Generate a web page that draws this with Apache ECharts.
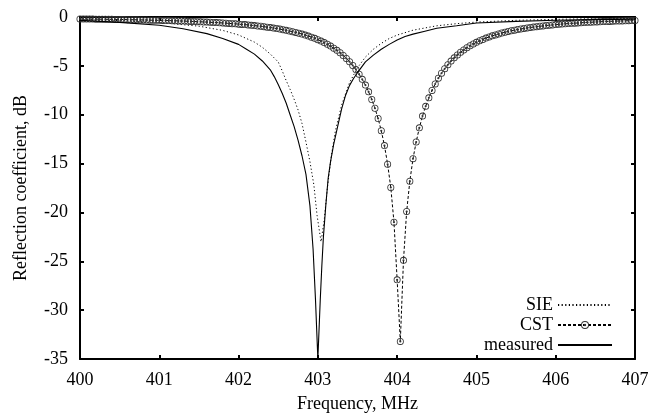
<!DOCTYPE html>
<html>
<head>
<meta charset="utf-8">
<script src="https://cdn.jsdelivr.net/npm/echarts@6/dist/echarts.min.js"></script>
<style>
html,body{margin:0;padding:0;background:#fff;}
#chart{width:669px;height:418px;}
</style>
</head>
<body>
<div id="chart"></div>
<script>
// ---- data ----
var xTicks = [400, 401, 402, 403, 404, 405, 406, 407];
var yTicks = [0, -5, -10, -15, -20, -25, -30, -35];

var sieFreq = [400, 400.5, 401, 401.5, 401.8, 402, 402.2, 402.3, 402.4, 402.5, 402.55, 402.6, 402.65, 402.7, 402.75, 402.8, 402.85, 402.9, 402.95, 402.99, 403.04, 403.08, 403.12, 403.17, 403.22, 403.3, 403.4, 403.5, 403.6, 403.7, 403.8, 403.9, 404, 404.2, 404.5, 404.75, 405, 405.5, 406, 406.5, 407];
var sieVals = [-0.26, -0.37, -0.56, -0.94, -1.37, -1.84, -2.57, -3.1, -3.79, -4.6, -5.5, -6.5, -7.4, -8.4, -9.5, -10.9, -12.8, -14.8, -17.2, -20.3, -23.0, -20.8, -17.5, -14.2, -11.7, -9.0, -6.7, -5.2, -4.1, -3.3, -2.7, -2.2, -1.85, -1.35, -0.9, -0.68, -0.52, -0.34, -0.24, -0.17, -0.13];

var cstFreq = [
400, 400.04, 400.08, 400.12, 400.16, 400.2, 400.24, 400.28, 400.32, 400.36, 400.4, 400.44, 400.48, 400.52, 400.56, 400.6, 400.64, 400.68, 400.72, 400.76, 400.8, 400.84, 400.88, 400.92, 400.96,
401, 401.04, 401.08, 401.12, 401.16, 401.2, 401.24, 401.28, 401.32, 401.36, 401.4, 401.44, 401.48, 401.52, 401.56, 401.6, 401.64, 401.68, 401.72, 401.76, 401.8, 401.84, 401.88, 401.92, 401.96,
402, 402.04, 402.08, 402.12, 402.16, 402.2, 402.24, 402.28, 402.32, 402.36, 402.4, 402.44, 402.48, 402.52, 402.56, 402.6, 402.64, 402.68, 402.72, 402.76, 402.8, 402.84, 402.88, 402.92, 402.96,
403, 403.04, 403.08, 403.12, 403.16, 403.2, 403.24, 403.28, 403.32, 403.36, 403.4, 403.44, 403.48, 403.52, 403.56, 403.6, 403.64, 403.68, 403.72, 403.76, 403.8, 403.84, 403.88, 403.92, 403.96,
404, 404.04, 404.08, 404.12, 404.16, 404.2, 404.24, 404.28, 404.32, 404.36, 404.4, 404.44, 404.48, 404.52, 404.56, 404.6, 404.64, 404.68, 404.72, 404.76, 404.8, 404.84, 404.88, 404.92, 404.96,
405, 405.04, 405.08, 405.12, 405.16, 405.2, 405.24, 405.28, 405.32, 405.36, 405.4, 405.44, 405.48, 405.52, 405.56, 405.6, 405.64, 405.68, 405.72, 405.76, 405.8, 405.84, 405.88, 405.92, 405.96,
406, 406.04, 406.08, 406.12, 406.16, 406.2, 406.24, 406.28, 406.32, 406.36, 406.4, 406.44, 406.48, 406.52, 406.56, 406.6, 406.64, 406.68, 406.72, 406.76, 406.8, 406.84, 406.88, 406.92, 406.96,
407];
var cstVals = [
-0.20, -0.20, -0.21, -0.21, -0.21, -0.22, -0.22, -0.23, -0.23, -0.24, -0.24, -0.25, -0.25, -0.26, -0.26, -0.27, -0.28, -0.28, -0.29, -0.30, -0.30, -0.31, -0.32, -0.33, -0.33,
-0.34, -0.35, -0.36, -0.37, -0.38, -0.39, -0.40, -0.41, -0.42, -0.44, -0.45, -0.46, -0.48, -0.49, -0.51, -0.52, -0.54, -0.56, -0.57, -0.59, -0.61, -0.63, -0.66, -0.68, -0.70,
-0.73, -0.76, -0.78, -0.81, -0.85, -0.88, -0.92, -0.95, -0.99, -1.04, -1.08, -1.13, -1.18, -1.24, -1.30, -1.36, -1.43, -1.50, -1.58, -1.66, -1.75, -1.85, -1.95, -2.06, -2.18,
-2.32, -2.46, -2.62, -2.79, -2.98, -3.19, -3.41, -3.66, -3.94, -4.24, -4.58, -4.96, -5.38, -5.85, -6.38, -6.97, -7.66, -8.44, -9.34, -10.39, -11.64, -13.16, -15.07, -17.45, -21.0,
-26.9, -33.2, -24.9, -19.9, -16.8, -14.5, -12.79, -11.34, -10.14, -9.14, -8.27, -7.51, -6.85, -6.26, -5.75, -5.29, -4.88, -4.51, -4.18, -3.88, -3.61, -3.37, -3.14, -2.94, -2.76,
-2.59, -2.43, -2.29, -2.16, -2.04, -1.93, -1.83, -1.73, -1.64, -1.56, -1.48, -1.41, -1.35, -1.28, -1.23, -1.17, -1.12, -1.07, -1.03, -0.99, -0.95, -0.91, -0.87, -0.84, -0.81,
-0.78, -0.75, -0.72, -0.70, -0.67, -0.65, -0.63, -0.61, -0.59, -0.57, -0.55, -0.54, -0.52, -0.50, -0.49, -0.47, -0.46, -0.45, -0.43, -0.42, -0.41, -0.40, -0.39, -0.38, -0.37,
-0.36];

var measFreq = [400, 400.5, 401, 401.3, 401.6, 401.8, 402, 402.1, 402.2, 402.3, 402.4, 402.45, 402.5, 402.55, 402.6, 402.65, 402.7, 402.75, 402.8, 402.85, 402.9, 402.94, 402.97, 403, 403.03, 403.05, 403.07, 403.1, 403.13, 403.16, 403.2, 403.25, 403.3, 403.35, 403.4, 403.45, 403.5, 403.6, 403.7, 403.8, 403.9, 404, 404.1, 404.2, 404.35, 404.5, 404.75, 405, 405.5, 406, 406.5, 407];
var measVals = [-0.35, -0.55, -0.85, -1.2, -1.7, -2.2, -2.8, -3.3, -3.8, -4.5, -5.4, -6.1, -6.9, -7.8, -8.8, -10.0, -11.2, -12.6, -14.2, -16.1, -19.3, -23.8, -28.9, -35.0, -29.0, -25.5, -22.5, -19.3, -16.5, -14.8, -13.0, -11.2, -9.4, -8.0, -7.0, -6.3, -5.7, -4.6, -3.9, -3.3, -2.8, -2.35, -2.0, -1.75, -1.45, -1.15, -0.9, -0.62, -0.45, -0.33, -0.27, -0.22];

function pairs(xs, ys) { return xs.map(function (x, i) { return [x, ys[i]]; }); }

var FONT = 'Liberation Serif';
var ringSymbol = 'path://M10 0A10 10 0 1 1 -10 0A10 10 0 1 1 10 0ZM7.6 0A7.6 7.6 0 1 0 -7.6 0A7.6 7.6 0 1 0 7.6 0ZM3 0A3 3 0 1 1 -3 0A3 3 0 1 1 3 0Z';

var axisLine = { show: true, onZero: false, lineStyle: { color: '#000', width: 2 } };
var axisTick = { show: true, inside: true, length: 4, lineStyle: { color: '#000', width: 2 } };
var noSymbol = { color: 'rgba(0,0,0,0)', borderColor: 'rgba(0,0,0,0)', borderWidth: 0, opacity: 0 };

var chart = echarts.init(document.getElementById('chart'), null, { renderer: 'canvas' });
chart.setOption({
  backgroundColor: '#fff',
  animation: false,
  grid: { left: 80, right: 34, top: 17, bottom: 57, containLabel: false },
  legend: {
    orient: 'vertical',
    align: 'right',
    right: 51,
    bottom: 59,
    itemWidth: 54,
    itemHeight: 10,
    itemGap: 2,
    textStyle: { fontFamily: FONT, fontSize: 18, color: '#000' },
    data: [
      { name: 'SIE', itemStyle: noSymbol },
      { name: 'CST' },
      { name: 'measured', itemStyle: noSymbol }
    ]
  },
  xAxis: [{
    type: 'value', min: xTicks[0], max: xTicks[xTicks.length - 1], interval: 1,
    name: 'Frequency, MHz', nameLocation: 'middle', nameGap: 36,
    nameTextStyle: { fontFamily: FONT, fontSize: 18, color: '#000' },
    axisLine: axisLine, axisTick: axisTick, splitLine: { show: false },
    axisLabel: { fontFamily: FONT, fontSize: 18, color: '#000', margin: 12 }
  }, {
    type: 'value', position: 'top', min: xTicks[0], max: xTicks[xTicks.length - 1], interval: 1,
    axisLine: axisLine, axisTick: axisTick, splitLine: { show: false }, axisLabel: { show: false }
  }],
  yAxis: [{
    type: 'value', min: yTicks[yTicks.length - 1], max: yTicks[0], interval: 5,
    name: 'Reflection coefficient, dB', nameLocation: 'middle', nameGap: 50, nameRotate: 90,
    nameTextStyle: { fontFamily: FONT, fontSize: 18, color: '#000' },
    axisLine: axisLine, axisTick: axisTick, splitLine: { show: false },
    axisLabel: { fontFamily: FONT, fontSize: 18, color: '#000', margin: 12 }
  }, {
    type: 'value', position: 'right', min: yTicks[yTicks.length - 1], max: yTicks[0], interval: 5,
    axisLine: axisLine, axisTick: axisTick, splitLine: { show: false }, axisLabel: { show: false }
  }],
  series: [{
    name: 'SIE', type: 'line', data: pairs(sieFreq, sieVals),
    showSymbol: false, symbol: 'none', z: 3,
    lineStyle: { color: '#000', width: 1, type: [1.2, 2.4] },
    itemStyle: { color: '#000' }
  }, {
    name: 'CST', type: 'line', data: pairs(cstFreq, cstVals),
    symbol: ringSymbol, symbolSize: 7, showAllSymbol: true, z: 4,
    lineStyle: { color: '#000', width: 1, type: [3, 2] },
    itemStyle: { color: '#333', borderWidth: 0 }
  }, {
    name: 'measured', type: 'line', data: pairs(measFreq, measVals),
    showSymbol: false, symbol: 'none', z: 5,
    lineStyle: { color: '#000', width: 1.1 },
    itemStyle: { color: '#000' }
  }]
});
</script>
</body>
</html>
